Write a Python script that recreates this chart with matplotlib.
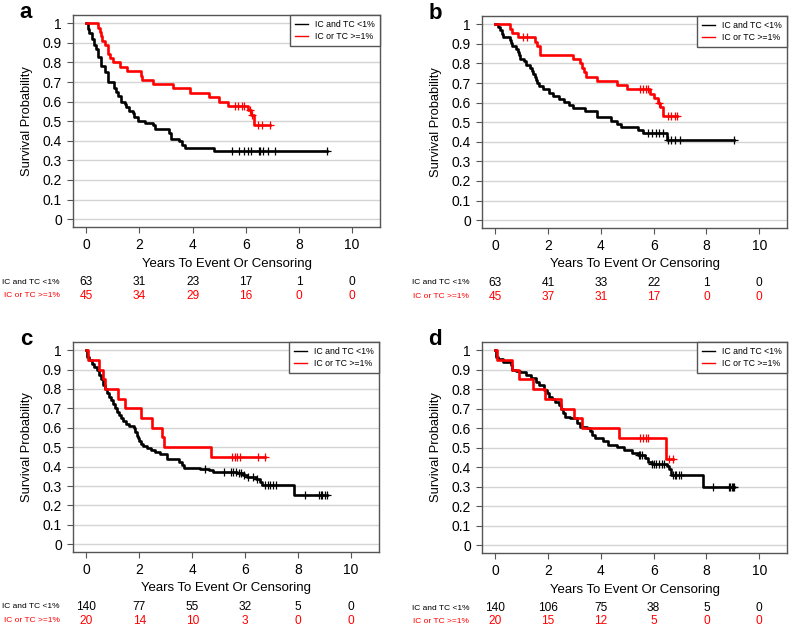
import numpy as np
import matplotlib
matplotlib.use('Agg')
from matplotlib import pyplot as plt
from matplotlib.transforms import blended_transform_factory

plt.rcParams['font.family'] = ['Liberation Sans', 'DejaVu Sans']

labels = ['IC and TC <1%', 'IC or TC >=1%']
risk_x = [0, 2, 4, 6, 8, 10]

# panel a
a_blk_t = [0.05, 0.1, 0.2, 0.3, 0.35, 0.45, 0.55, 0.7, 0.8, 1.05, 1.1, 1.2, 1.3, 1.45, 1.5, 1.6,
           1.75, 1.8, 1.95, 2.2, 2.5, 2.6, 3.1, 3.2, 3.5, 3.6, 3.7, 4.8]
a_blk_s = [0.97, 0.95, 0.92, 0.89, 0.87, 0.83, 0.78, 0.75, 0.70, 0.67, 0.65, 0.63, 0.60, 0.59, 0.57, 0.55,
           0.54, 0.52, 0.50, 0.49, 0.48, 0.46, 0.44, 0.41, 0.40, 0.38, 0.365, 0.35]
a_blk_c = [5.5, 5.75, 5.95, 6.1, 6.2, 6.5, 6.55, 6.65, 6.85, 7.1, 9.05]
a_red_t = [0.45, 0.5, 0.55, 0.6, 0.7, 0.8, 0.9, 1.0, 1.25, 1.55, 2.05, 2.1, 2.5, 3.25, 3.9, 4.6,
           5.0, 5.35, 6.1, 6.2, 6.3]
a_red_s = [0.978, 0.956, 0.933, 0.911, 0.889, 0.844, 0.822, 0.80, 0.778, 0.756, 0.733, 0.711, 0.689,
           0.667, 0.644, 0.622, 0.60, 0.578, 0.556, 0.533, 0.48]
a_red_c = [5.6, 5.7, 5.85, 5.95, 6.15, 6.25, 6.45, 6.6, 6.9]
a_risk_blk = [63, 31, 23, 17, 1, 0]
a_risk_red = [45, 34, 29, 16, 0, 0]

# panel b
b_blk_t = [0.1, 0.2, 0.25, 0.3, 0.55, 0.6, 0.65, 0.8, 0.85, 0.9, 0.95, 1.1, 1.15, 1.3, 1.4, 1.45, 1.5,
           1.55, 1.6, 1.65, 1.8, 2.05, 2.2, 2.4, 2.6, 2.8, 2.95, 3.4, 3.85, 4.4, 4.6, 4.75, 5.4, 5.6, 6.5]
b_blk_s = [0.984, 0.968, 0.952, 0.937, 0.921, 0.905, 0.889, 0.873, 0.857, 0.841, 0.825, 0.810, 0.794,
           0.778, 0.762, 0.746, 0.730, 0.714, 0.698, 0.683, 0.667, 0.651, 0.635, 0.619, 0.603, 0.587,
           0.571, 0.556, 0.524, 0.508, 0.492, 0.476, 0.46, 0.444, 0.41]
b_blk_c = [5.8, 5.95, 6.1, 6.2, 6.35, 6.55, 6.65, 6.8, 7.0, 9.05]
b_red_t = [0.55, 0.65, 0.85, 1.5, 1.6, 1.7, 2.95, 3.2, 3.3, 3.35, 3.45, 3.85, 4.6, 5.0, 5.85, 6.0,
           6.15, 6.25, 6.35]
b_red_s = [0.978, 0.956, 0.933, 0.911, 0.889, 0.844, 0.822, 0.80, 0.778, 0.756, 0.733, 0.711, 0.689,
           0.667, 0.644, 0.622, 0.60, 0.578, 0.533]
b_red_c = [1.05, 1.2, 5.5, 5.6, 5.7, 5.8, 6.2, 6.55, 6.65, 6.8, 6.9]
b_risk_blk = [63, 41, 33, 22, 1, 0]
b_risk_red = [45, 37, 31, 17, 0, 0]

# panel c
c_blk_t = [0.03, 0.1, 0.2, 0.3, 0.4, 0.5, 0.55, 0.62, 0.7, 0.78, 0.85, 0.92, 1.0, 1.08, 1.15, 1.22,
           1.3, 1.4, 1.5, 1.6, 1.8, 1.85, 1.9, 1.95, 2.0, 2.05, 2.15, 2.3, 2.45, 2.6, 2.8, 3.05, 3.5,
           3.6, 3.7, 4.3, 4.65, 4.8, 5.7, 5.9, 6.05, 6.4, 6.55, 6.65, 7.85]
c_blk_s = [0.964, 0.95, 0.93, 0.914, 0.90, 0.87, 0.85, 0.82, 0.80, 0.78, 0.76, 0.745, 0.72, 0.70,
           0.68, 0.665, 0.65, 0.635, 0.62, 0.61, 0.60, 0.58, 0.56, 0.545, 0.53, 0.515, 0.505, 0.495,
           0.485, 0.475, 0.465, 0.44, 0.425, 0.41, 0.395, 0.387, 0.38, 0.373, 0.365, 0.355, 0.345,
           0.335, 0.32, 0.307, 0.255]
c_blk_c = [4.5, 5.2, 5.45, 5.55, 5.65, 5.75, 5.85, 5.95, 6.1, 6.3, 6.45, 6.75, 6.85, 6.95, 7.05, 7.15,
           8.25, 8.8, 8.85, 8.9, 9.0, 9.1]
c_red_t = [0.05, 0.5, 0.65, 0.7, 1.2, 1.45, 2.05, 2.5, 2.85, 2.95, 4.7]
c_red_s = [0.95, 0.90, 0.85, 0.80, 0.75, 0.70, 0.65, 0.60, 0.55, 0.50, 0.45]
c_red_c = [5.5, 5.6, 5.7, 5.8, 6.5, 6.75]
c_risk_blk = [140, 77, 55, 32, 5, 0]
c_risk_red = [20, 14, 10, 3, 0, 0]

# panel d
d_blk_t = [0.03, 0.1, 0.28, 0.6, 0.65, 0.8, 0.95, 1.15, 1.34, 1.53, 1.66, 1.84, 1.95, 2.03, 2.15,
           2.28, 2.41, 2.5, 2.55, 2.66, 2.85, 3.1, 3.22, 3.48, 3.6, 3.66, 3.79, 4.1, 4.29, 4.6, 4.86,
           5.17, 5.42, 5.67, 5.8, 5.92, 6.52, 6.58, 6.65, 7.87]
d_blk_s = [0.965, 0.957, 0.94, 0.925, 0.90, 0.895, 0.89, 0.872, 0.855, 0.838, 0.82, 0.796, 0.78,
           0.761, 0.75, 0.736, 0.72, 0.70, 0.676, 0.659, 0.65, 0.625, 0.608, 0.60, 0.585, 0.566,
           0.549, 0.532, 0.514, 0.506, 0.489, 0.472, 0.463, 0.446, 0.429, 0.417, 0.404, 0.39, 0.361, 0.30]
d_blk_c = [5.45, 5.5, 5.55, 5.95, 6.0, 6.1, 6.2, 6.3, 6.4, 6.75, 6.8, 6.85, 6.95, 7.05, 8.25, 8.85,
           8.9, 8.95, 9.0, 9.06]
d_red_t = [0.05, 0.65, 0.9, 1.45, 1.9, 2.5, 3.0, 3.3, 4.7, 6.45]
d_red_s = [0.95, 0.90, 0.85, 0.80, 0.75, 0.70, 0.65, 0.60, 0.55, 0.44]
d_red_c = [5.5, 5.6, 5.7, 5.8, 6.6, 6.75]
d_risk_blk = [140, 106, 75, 38, 5, 0]
d_risk_red = [20, 15, 12, 5, 0, 0]

panels = [
    ('a', [73, 15, 380, 227], a_blk_t, a_blk_s, a_blk_c, a_red_t, a_red_s, a_red_c, a_risk_blk, a_risk_red),
    ('b', [482, 16, 787, 228], b_blk_t, b_blk_s, b_blk_c, b_red_t, b_red_s, b_red_c, b_risk_blk, b_risk_red),
    ('c', [73, 342, 379, 552], c_blk_t, c_blk_s, c_blk_c, c_red_t, c_red_s, c_red_c, c_risk_blk, c_risk_red),
    ('d', [482, 342, 787, 553], d_blk_t, d_blk_s, d_blk_c, d_red_t, d_red_s, d_red_c, d_risk_blk, d_risk_red),
]

W, H = 790, 627
fig = plt.figure(figsize=(7.9, 6.27), dpi=100)
frame = '#555555'


def km(ax, t, s, cens, color):
    t = np.asarray(t)
    s = np.asarray(s)
    end = max(t.max(), max(cens))
    xs = np.r_[0, t, end]
    ys = np.r_[1, s, s[-1]]
    ax.step(xs, ys, where='post', color=color, lw=1.9)
    lev = np.r_[1, s]
    cy = lev[np.searchsorted(t, cens, side='right')]
    ax.plot(cens, cy, ls='none', marker='+', ms=6, mew=0.9, color=color)


for name, box, bt, bs, bc, rt, rs, rc, rk_b, rk_r in panels:
    l, t_, r, b = box
    w, h = r - l, b - t_
    ax = fig.add_axes([l / W, 1 - b / H, w / W, h / H])
    ax.set_xlim(-0.5, 11.05)
    ax.set_ylim(-0.04, 1.042)
    for yv in np.arange(0, 1.01, 0.1):
        ax.axhline(yv, color='#d4d4d4', lw=1, zorder=0)
    km(ax, bt, bs, bc, 'black')
    km(ax, rt, rs, rc, '#ff0000')
    ax.plot([], [], color='black', lw=1, label=labels[0])
    ax.plot([], [], color='#ff0000', lw=1, label=labels[1])
    leg = ax.legend(loc='upper right', borderaxespad=0, fancybox=False, fontsize=6.3,
                    handlelength=1.5, handletextpad=0.8, labelspacing=0.3, borderpad=0.6,
                    framealpha=1, edgecolor=frame)
    leg.get_frame().set_linewidth(1)
    ax.set_xticks(range(0, 11, 2))
    ax.set_yticks(np.round(np.arange(0, 1.01, 0.1), 1))
    ax.set_yticklabels(['0', '0.1', '0.2', '0.3', '0.4', '0.5', '0.6', '0.7', '0.8', '0.9', '1'])
    ax.tick_params(labelsize=10, length=4.5, color=frame, width=0.8)
    for sp in ax.spines.values():
        sp.set_color(frame)
        sp.set_linewidth(1)
    ax.set_xlabel('Years To Event Or Censoring', fontsize=9.5)
    ax.xaxis.set_label_coords(0.5, -30.5 / h)
    ax.set_ylabel('Survival Probability', fontsize=9.3)
    ax.yaxis.set_label_coords(-40 / w, 0.5)
    ax.text(-47 / w, 1.01, name, transform=ax.transAxes, fontsize=16, fontweight='bold',
            ha='center', va='center')
    tr = blended_transform_factory(ax.transData, ax.transAxes)
    y1 = -55 / h
    y2 = -68.5 / h
    for xv, n1, n2 in zip(risk_x, rk_b, rk_r):
        ax.text(xv, y1, str(n1), transform=tr, fontsize=8.6, ha='center', va='center', color='black')
        ax.text(xv, y2, str(n2), transform=tr, fontsize=8.6, ha='center', va='center', color='#ff0000')
    ax.text(-13 / w, y1, labels[0], transform=ax.transAxes, fontsize=6, ha='right',
            va='center', color='black')
    ax.text(-13 / w, y2, labels[1], transform=ax.transAxes, fontsize=6, ha='right',
            va='center', color='#ff0000')

fig.savefig('out.png', dpi=100)
